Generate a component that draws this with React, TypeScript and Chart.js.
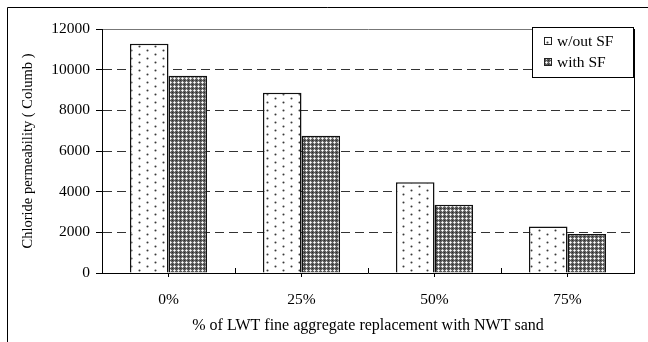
import React, { useEffect, useRef } from 'react';
import { Chart, registerables } from 'chart.js';

Chart.register(...registerables);

const categories = ['0%', '25%', '50%', '75%'];
const withoutSF = [11270, 8870, 4460, 2290];
const withSF = [9700, 6750, 3360, 1920];
const seriesNames = ['w/out SF', 'with SF'];
const yMin = 0;
const yMax = 12000;
const yStep = 2000;
const xTitle = '% of LWT fine aggregate replacement with NWT sand';
const yTitle = 'Chloride permeability ( Columb )';

const FONT = "'Liberation Serif', 'Times New Roman', serif";

function makeDots(): CanvasPattern | string {
  const c = document.createElement('canvas');
  c.width = 16;
  c.height = 8;
  const g = c.getContext('2d');
  if (!g) return '#fff';
  g.fillStyle = '#ffffff';
  g.fillRect(0, 0, 16, 8);
  g.fillStyle = '#3a3a3a';
  g.beginPath();
  g.arc(3.5, 2.5, 1.05, 0, Math.PI * 2);
  g.arc(11.5, 6.5, 1.05, 0, Math.PI * 2);
  g.fill();
  const main = document.createElement('canvas').getContext('2d');
  return (main && main.createPattern(c, 'repeat')) || '#fff';
}

function makeHatch(): CanvasPattern | string {
  const c = document.createElement('canvas');
  c.width = 4;
  c.height = 4;
  const g = c.getContext('2d');
  if (!g) return '#777';
  g.fillStyle = '#5c5c5c';
  g.fillRect(0, 0, 4, 4);
  g.fillStyle = '#2a2a2a';
  g.fillRect(0, 0, 1, 1);
  g.fillStyle = '#d4d4d4';
  g.fillRect(1, 2, 1, 1);
  g.fillRect(3, 2, 1, 1);
  g.fillRect(2, 1, 1, 1);
  g.fillRect(2, 3, 1, 1);
  g.fillStyle = '#ffffff';
  g.fillRect(2, 2, 1, 1);
  const main = document.createElement('canvas').getContext('2d');
  return (main && main.createPattern(c, 'repeat')) || '#777';
}

export default function App() {
  const ref = useRef<HTMLCanvasElement | null>(null);

  useEffect(() => {
    const canvas = ref.current;
    if (!canvas) return;
    const dots = makeDots();
    const hatch = makeHatch();
    const fills = [dots, hatch];

    const decor = {
      id: 'decor',
      afterDraw(chart: any) {
        const ctx = chart.ctx as CanvasRenderingContext2D;
        const a = chart.chartArea;
        const xs = chart.scales.x;
        ctx.save();
        ctx.strokeStyle = '#000';
        ctx.lineWidth = 1;
        ctx.beginPath();
        ctx.moveTo(7.5, 342);
        ctx.lineTo(7.5, 7.5);
        ctx.lineTo(648, 7.5);
        ctx.stroke();
        ctx.beginPath();
        ctx.moveTo(Math.round(a.right) + 0.5, a.top);
        ctx.lineTo(Math.round(a.right) + 0.5, a.bottom);
        ctx.stroke();
        const n = categories.length;
        for (let i = 1; i < n; i++) {
          const p = (xs.getPixelForTick(i - 1) + xs.getPixelForTick(i)) / 2;
          ctx.beginPath();
          ctx.moveTo(Math.round(p) + 0.5, a.bottom);
          ctx.lineTo(Math.round(p) + 0.5, a.bottom - 5);
          ctx.stroke();
        }
        const lx = 532.5, ly = 27.5, lw = 101, lh = 50;
        ctx.fillStyle = '#fff';
        ctx.fillRect(lx, ly, lw, lh);
        ctx.strokeStyle = '#000';
        ctx.strokeRect(lx, ly, lw, lh);
        ctx.font = `15.5px ${FONT}`;
        ctx.textBaseline = 'middle';
        ctx.textAlign = 'left';
        seriesNames.forEach((name, i) => {
          const cy = 41 + i * 21;
          ctx.fillStyle = fills[i] as any;
          ctx.fillRect(544, cy - 4, 8, 8);
          ctx.strokeStyle = '#222';
          ctx.strokeRect(544.5, cy - 3.5, 7, 7);
          ctx.fillStyle = '#000';
          ctx.fillText(name, 557, cy + 1);
        });
        ctx.restore();
      },
    };

    const chart = new Chart(canvas, {
      type: 'bar',
      data: {
        labels: categories,
        datasets: [
          {
            label: seriesNames[0],
            data: withoutSF,
            backgroundColor: dots as any,
            borderColor: '#111',
            borderWidth: 1.5,
            categoryPercentage: 0.58,
            barPercentage: 1,
          },
          {
            label: seriesNames[1],
            data: withSF,
            backgroundColor: hatch as any,
            borderColor: '#111',
            borderWidth: 1.5,
            categoryPercentage: 0.58,
            barPercentage: 1,
          },
        ],
      },
      options: {
        responsive: false,
        animation: false,
        devicePixelRatio: 1,
        layout: { padding: { left: 0, right: 14, top: 29, bottom: 0 } },
        plugins: {
          legend: { display: false },
          tooltip: { enabled: false },
        },
        scales: {
          x: {
            afterFit: (s: any) => {
              s.height = 69;
            },
            grid: {
              offset: false,
              drawOnChartArea: false,
              tickLength: 4,
              tickColor: '#000',
            },
            border: { color: '#000', width: 1 },
            ticks: {
              color: '#000',
              padding: 14,
              font: { family: FONT, size: 15.5 },
            },
            title: {
              display: true,
              text: xTitle,
              color: '#000',
              font: { family: FONT, size: 16 },
              padding: { top: 0, bottom: 7 },
            },
          },
          y: {
            min: yMin,
            max: yMax,
            afterFit: (s: any) => {
              s.width = 102;
            },
            ticks: {
              stepSize: yStep,
              color: '#000',
              padding: 6,
              font: { family: FONT, size: 15.5 },
              callback: (v: any) => String(v),
            },
            grid: {
              color: (c: any) => (c.tick && c.tick.value === yMax ? '#777' : '#333'),
              lineWidth: 1,
              tickLength: 6,
              tickColor: '#000',
              tickBorderDash: [],
            },
            border: {
              color: '#000',
              width: 1,
              dash: (c: any) => (c.tick && c.tick.value === yMax ? [] : [9, 5]),
            },
            title: {
              display: true,
              text: yTitle,
              color: '#000',
              font: { family: FONT, size: 14.5 },
              padding: { top: 19, bottom: 0 },
            },
          },
        },
      },
      plugins: [decor],
    } as any);

    return () => {
      chart.destroy();
    };
  }, []);

  return (
    <div style={{ position: 'absolute', left: 0, top: 0, width: 648, height: 342, background: '#fff' }}>
      <canvas ref={ref} width={648} height={342} style={{ display: 'block', width: 648, height: 342 }} />
    </div>
  );
}
